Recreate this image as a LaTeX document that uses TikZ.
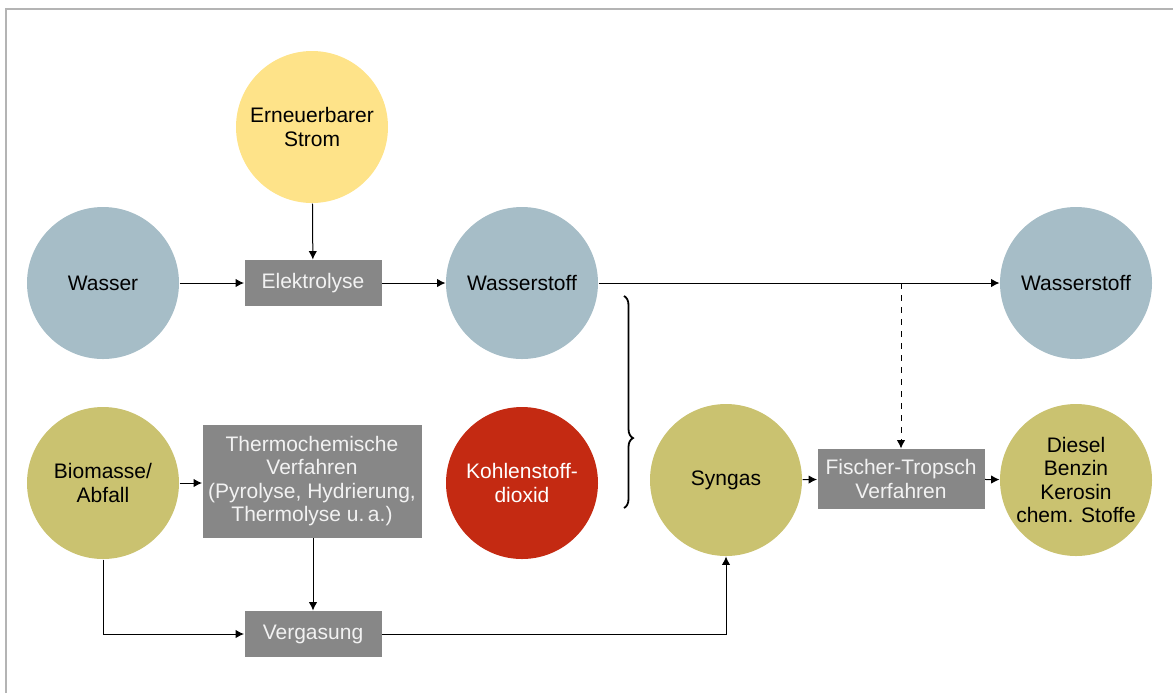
\documentclass[tikz,border=0pt]{standalone}
\usepackage{fontspec}
\setmainfont{Liberation Sans}
\usepackage{tikz}
\usetikzlibrary{arrows.meta,positioning,decorations.pathreplacing}

\definecolor{stromgelb}{HTML}{FEE389}
\definecolor{wasserblau}{HTML}{A6BDC7}
\definecolor{biooliv}{HTML}{CAC270}
\definecolor{co2rot}{HTML}{C42A12}
\definecolor{prozessgrau}{HTML}{878787}
\definecolor{rahmengrau}{HTML}{B4B4B4}

\begin{document}
\begin{tikzpicture}[x=0.5pt,y=-0.5pt,>={Latex[length=4.2pt,width=4.2pt]},line width=0.5pt,
    font=\fontsize{10.5}{11.7}\selectfont,
    stoff/.style={circle,minimum size=76pt,inner sep=0pt,align=center,text=black},
    prozess/.style={rectangle,fill=prozessgrau,text=white!95!black,align=center,inner sep=0pt}]

    \useasboundingbox (0,0) rectangle (1173,693);
    % frame
    \draw[rahmengrau,line width=0.8pt] (6,693) -- (6,9) -- (1173,9);

    % The substances
	\node [stoff,fill=stromgelb] at (312,127) (strom) {Erneuerbarer\\Strom};
	\node [stoff,fill=wasserblau] at (103,283) (wasser) {Wasser};
	\node [stoff,fill=wasserblau] at (522,283) (h2) {Wasserstoff};
	\node [stoff,fill=wasserblau] at (1076,283) (h2out) {Wasserstoff};
	\node [stoff,fill=biooliv] at (103,483) (bio) {Biomasse/\\Abfall};
	\node [stoff,fill=co2rot,text=white] at (522,483) (co2) {Kohlenstoff-\\dioxid};
	\node [stoff,fill=biooliv] at (726,480) (syngas) {Syngas};
	\node [stoff,fill=biooliv] at (1076,480) (fuels) {Diesel\\Benzin\\Kerosin\\chem. Stoffe};

	% The processes
	\node [prozess,minimum width=68.5pt,minimum height=23pt] at (313,283) (elektro) {Elektrolyse};
	\node [prozess,minimum width=109.5pt,minimum height=56.5pt] at (312,481) (thermo) {Thermochemische\\Verfahren\\(Pyrolyse, Hydrierung,\\Thermolyse u.\,a.)};
	\node [prozess,minimum width=83.5pt,minimum height=30pt] at (901,479) (ft) {Fischer-Tropsch\\Verfahren};
	\node [prozess,minimum width=68.5pt,minimum height=23pt] at (313,634) (vergas) {Vergasung};

	% Graph edges
	\draw[->] (strom) -- (elektro);
	\draw[->] (wasser) -- (elektro);
	\draw[->] (elektro) -- (h2);
	\draw[->] (h2) -- (h2out);
	\draw[->] (bio) -- (bio -| thermo.west);
	\draw[->] (bio) |- (vergas);
	\draw[->] (thermo.south -| vergas.north) -- (vergas);
	\draw[->] (vergas) -| (syngas);
	\draw[->] (syngas) -- (ft);
	\draw[->] (ft) -- (fuels);

	\draw[->,dashed] (ft.north |- h2) -- (ft);

	% brace for H2 + CO2
	\draw[line width=0.9pt,decorate,decoration={brace,amplitude=4.5pt,aspect=0.67}] (624,296) -- (624,508);

\end{tikzpicture}
\end{document}
